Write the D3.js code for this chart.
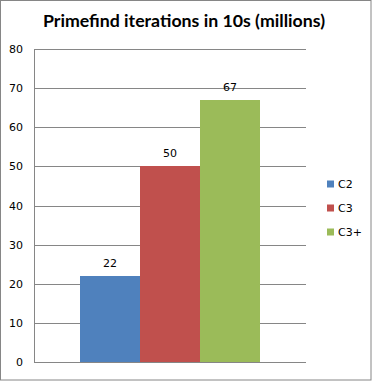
<!doctype html>
<html>
<head>
<meta charset="utf-8">
<script src="https://d3js.org/d3.v7.min.js"></script>
<style>
  body { margin: 0; background: #fff; }
  svg { display: block; font-family: Tahoma, "DejaVu Sans", Verdana, sans-serif; }
</style>
</head>
<body>
<svg id="chart" width="372" height="381"></svg>
<script>
// chart data
var series = ["C2", "C3", "C3+"];
var values = [22, 50, 67];
var colors = ["#4F81BD", "#C0504D", "#9BBB59"];
var yTicks = [0, 10, 20, 30, 40, 50, 60, 70, 80];

var width = 372, height = 381;
var plot = { left: 34, right: 306, top: 49, bottom: 362 };

var svg = d3.select("#chart");

// outer frame
svg.append("rect")
  .attr("x", 0.5).attr("y", 0.5)
  .attr("width", width - 1.5).attr("height", height - 1.5)
  .attr("fill", "#fff").attr("stroke", "#868686");

svg.append("text")
  .attr("x", 184).attr("y", 27)
  .attr("text-anchor", "middle")
  .style("font-family", "Lato, 'Open Sans', sans-serif")
  .style("font-weight", "bold")
  .style("font-size", "17px")
  .attr("textLength", 282)
  .attr("lengthAdjust", "spacingAndGlyphs")
  .text("Primefind iterations in 10s (millions)");

var y = d3.scaleLinear().domain([0, 80]).range([plot.bottom, plot.top]);

// the three bars sit side by side in one category band
var x = d3.scaleBand().domain(series)
  .range([80, 260]);

// gridlines
svg.append("g").selectAll("line").data(yTicks).enter().append("line")
  .attr("x1", plot.left).attr("x2", plot.right)
  .attr("y1", function(d) { return Math.round(y(d)) + 0.5; })
  .attr("y2", function(d) { return Math.round(y(d)) + 0.5; })
  .attr("stroke", "#868686");

// left axis line
svg.append("line")
  .attr("x1", plot.left + 0.5).attr("x2", plot.left + 0.5)
  .attr("y1", plot.top).attr("y2", plot.bottom + 1)
  .attr("stroke", "#868686");

// tick labels
svg.append("g").selectAll("text").data(yTicks).enter().append("text")
  .attr("x", 23)
  .attr("y", function(d) { return y(d) + 4; })
  .attr("text-anchor", "end")
  .style("font-size", "11px")
  .attr("fill", "#000")
  .text(function(d) { return d; });

// bars
svg.append("g").selectAll("rect").data(values).enter().append("rect")
  .attr("x", function(d, i) { return x(series[i]); })
  .attr("width", x.bandwidth())
  .attr("y", function(d) { return Math.round(y(d)); })
  .attr("height", function(d) { return plot.bottom - Math.round(y(d)); })
  .attr("fill", function(d, i) { return colors[i]; });

// value labels
svg.append("g").selectAll("text").data(values).enter().append("text")
  .attr("x", function(d, i) { return x(series[i]) + x.bandwidth() / 2; })
  .attr("y", function(d) { return y(d) - 9; })
  .attr("text-anchor", "middle")
  .style("font-size", "11px")
  .text(function(d) { return d; });

// legend
var leg = svg.append("g").selectAll("g").data(series).enter().append("g")
  .attr("transform", function(d, i) { return "translate(327," + (184 + i * 24) + ")"; });
leg.append("rect")
  .attr("x", 0).attr("y", -3.5).attr("width", 7).attr("height", 7)
  .attr("fill", function(d, i) { return colors[i]; });
leg.append("text")
  .attr("x", 11).attr("y", 4)
  .style("font-size", "11px")
  .text(function(d) { return d; });
</script>
</body>
</html>
